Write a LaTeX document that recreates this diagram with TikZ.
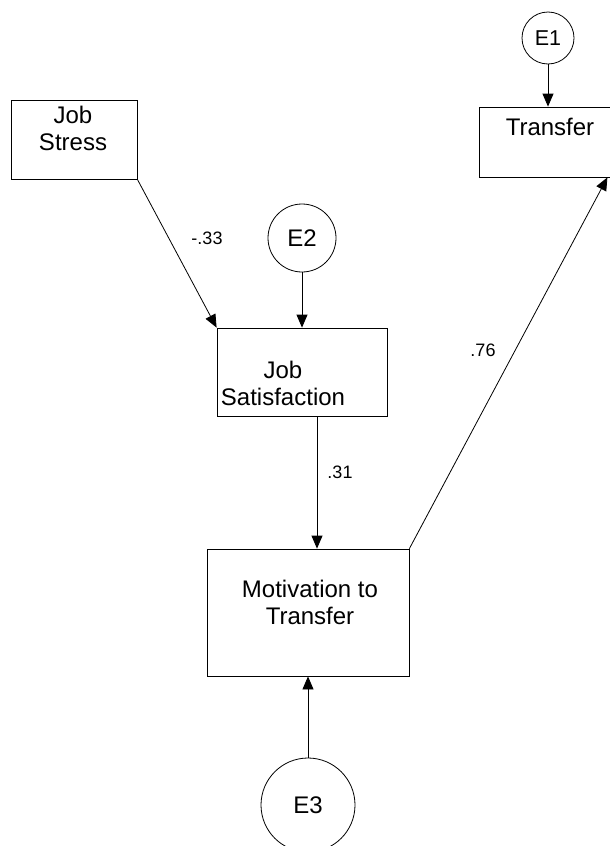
\documentclass[tikz,border=0pt]{standalone}
\usepackage{fontspec}
\setmainfont{Liberation Sans}
\usetikzlibrary{arrows.meta}

\begin{document}
\begin{tikzpicture}[x=1pt, y=-1pt,
  box/.style={draw, line width=0.8pt, inner sep=0pt},
  err/.style={draw, circle, line width=0.8pt, inner sep=0pt,
    font=\fontsize{24}{28}\selectfont},
  txt/.style={align=center, inner sep=0pt,
    font=\fontsize{24}{27}\selectfont},
  coef/.style={inner sep=0pt, font=\fontsize{18}{21}\selectfont},
  path/.style={line width=0.8pt, -{Triangle[length=13pt, width=11pt]}}]

  \useasboundingbox (0,0) rectangle (610,846);

  % observed variables
  \node[box, minimum width=126, minimum height=79] (js) at (74,139.5) {};
  \node[txt] (jsl) at (73,128.5) {Job\\Stress};

  \node[box, minimum width=133, minimum height=70] (tr) at (545.5,142) {};
  \node[txt] (trl) at (550,127) {Transfer};

  \node[box, minimum width=170, minimum height=88] (sat) at (302,372) {};
  \node[txt] (satl) at (283,383.5) {Job\\Satisfaction};

  \node[box, minimum width=202, minimum height=127] (mot) at (308,612.5) {};
  \node[txt] (motl) at (310,602.5) {Motivation to\\Transfer};

  % error terms
  \node[err, minimum size=52, font=\fontsize{21.5}{25}\selectfont] (e1) at (548,38) {E1};
  \node[err, minimum size=68] (e2) at (302,238) {E2};
  \node[err, minimum size=94] (e3) at (308,805) {E3};

  % structural paths
  \draw[path] (js.south east) -- (sat.north west);
  \draw[path] ([xshift=15pt]sat.south) -- ([xshift=9pt]mot.north);
  \draw[path] (mot.north east) -- ([xshift=-5pt]tr.south east);

  % error paths
  \draw[path] (e1.south) -- (e1.south |- tr.north);
  \draw[path] (e2.south) -- (e2.south |- sat.north);
  \draw[path] (e3.north) -- (e3.north |- mot.south);

  % path coefficients
  \node[coef] (c1) at (207,238) {-.33};
  \node[coef] (c2) at (340,472) {.31};
  \node[coef] (c3) at (483,350) {.76};
\end{tikzpicture}
\end{document}
